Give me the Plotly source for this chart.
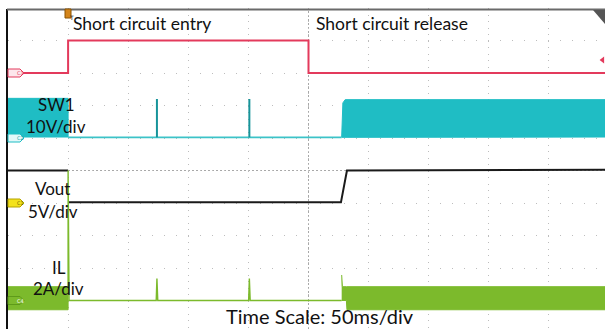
import plotly.graph_objects as go

# ---------------- data (time in ms, trigger at 0, 50 ms/div) ----------------
# C3 : short-circuit command (logic level, 1 unit = 1 div)
c3_t = [-50, 0, 0, 200, 200, 447]
c3_v = [0, 0, 1, 1, 0, 0]

# C2 : SW1 node, 10 V/div  (switching bursts shown as envelopes)
sw1_run1_t = [-50, 0]
sw1_run1_hi = [12.2, 12.2]
sw1_run1_lo = [0.3, 0.3]
sw1_line_t = [0, 227.6]
sw1_line_v = [0.2, 0.2]
sw1_spike_t = [73.9, 150.8]      # hiccup restart attempts
sw1_spike_v = [12.0, 12.0]
sw1_run2_t = [227.6, 228.6, 230.5, 447]
sw1_run2_hi = [0.3, 10.8, 11.8, 11.8]
sw1_run2_lo = [0.2, 0.3, 0.3, 0.3]

# C1 : Vout, 5 V/div
vout_t = [-50, 0, None, 0, 227.0, 232.0, 447]
vout_v = [5.0, 5.0, None, 0.1, 0.1, 5.0, 5.1]

# C4 : IL, 2 A/div
il_run1_t = [-50, 0]
il_run1_hi = [0.85, 0.85]
il_run1_lo = [-0.57, -0.57]
il_line_t = [0, 0, 0.8, 73.3, 73.9, 74.6, 150.2, 150.8, 151.5, 227.6]
il_line_a = [0.85, 8.0, 0.0, 0.0, 1.35, 0.0, 0.0, 1.35, 0.0, 0.0]
il_run2_t = [227.6, 228.2, 231.5, 232.0, 447]
il_run2_hi = [1.57, 0.85, 0.85, 0.85, 0.85]
il_run2_lo = [0.0, 0.0, 0.0, -0.57, -0.57]

trig_level = 0.4  # C3 trigger level marker

# channel scales (units/div) and screen offsets (div from bottom)
scale = {"C3": 1.0, "C2": 10.0, "C1": 5.0, "C4": 2.0}
offset = {"C3": 8.0, "C2": 6.0, "C1": 4.0, "C4": 1.0}

col = {"C3": "#e33a5c", "C2": "#1fbdc4", "C1": "#1a1a1a", "C4": "#7cba2c"}

W, H = 605, 329
ML, MT = 8, 8
PW, PH = W - ML, H - MT
XDIV, YDIV = 60.1, 32.5  # px per division
x_range = [-50, -50 + PW / XDIV * 50]
y_range = [10 - PH / YDIV, 10]


def scr(ch, vals):
    return [None if v is None else offset[ch] + v / scale[ch] for v in vals]


def px(x):
    return (x - ML) / PW


def py(y):
    return 1 - (y - MT) / PH


def envelope(t, hi, lo):
    return list(t) + list(reversed(t)), list(hi) + list(reversed(lo))


fig = go.Figure()

# C3
fig.add_trace(go.Scatter(x=c3_t, y=scr("C3", c3_v), mode="lines",
                         line=dict(color=col["C3"], width=2)))

# C2 envelopes + line + spikes
for t, hi, lo in [(sw1_run1_t, sw1_run1_hi, sw1_run1_lo), (sw1_run2_t, sw1_run2_hi, sw1_run2_lo)]:
    ex, ey = envelope(t, hi, lo)
    fig.add_trace(go.Scatter(x=ex, y=scr("C2", ey), mode="lines", fill="toself",
                             fillcolor=col["C2"], line=dict(color=col["C2"], width=1)))
fig.add_trace(go.Scatter(x=sw1_line_t, y=scr("C2", sw1_line_v), mode="lines",
                         line=dict(color="#3cc3c8", width=1.6)))
sx, sy = [], []
for t, v in zip(sw1_spike_t, sw1_spike_v):
    sx += [t, t, None]
    sy += [0.2, v, None]
fig.add_trace(go.Scatter(x=sx, y=scr("C2", sy), mode="lines",
                         line=dict(color="#17949a", width=2)))

# C1
fig.add_trace(go.Scatter(x=vout_t, y=scr("C1", vout_v), mode="lines",
                         line=dict(color=col["C1"], width=2), connectgaps=False))

# C4
for t, hi, lo in [(il_run1_t, il_run1_hi, il_run1_lo), (il_run2_t, il_run2_hi, il_run2_lo)]:
    ex, ey = envelope(t, hi, lo)
    fig.add_trace(go.Scatter(x=ex, y=scr("C4", ey), mode="lines", fill="toself",
                             fillcolor=col["C4"], line=dict(color=col["C4"], width=1)))
fig.add_trace(go.Scatter(x=il_line_t, y=scr("C4", il_line_a), mode="lines",
                         line=dict(color=col["C4"], width=1.4)))

# trigger level marker (right edge)
fig.add_trace(go.Scatter(x=[x_range[1] - 2], y=scr("C3", [trig_level]), mode="markers",
                         marker=dict(symbol="triangle-left", size=6, color=col["C3"])))

shapes = []
# centre graticule lines
shapes.append(dict(type="line", xref="x", yref="paper", x0=200, x1=200, y0=0, y1=1,
                   line=dict(color="#a8a8a8", width=1, dash="2px,2px"), layer="below"))
shapes.append(dict(type="line", xref="paper", yref="y", x0=0, x1=1, y0=5, y1=5,
                   line=dict(color="#a8a8a8", width=1, dash="2px,2px"), layer="below"))
# borders
shapes.append(dict(type="line", xref="paper", yref="paper", x0=px(7), x1=px(7), y0=0, y1=py(9),
                   line=dict(color="#111111", width=2)))
shapes.append(dict(type="line", xref="paper", yref="paper", x0=px(7), x1=1, y0=py(9.5), y1=py(9.5),
                   line=dict(color="#6a6a6a", width=2)))
# top-right corner triangle
shapes.append(dict(type="path", xref="paper", yref="paper",
                   path=f"M {px(593)},{py(10)} L {px(605)},{py(10)} L {px(605)},{py(24)} Z",
                   fillcolor="#555555", line=dict(width=0)))
# trigger T marker
shapes.append(dict(type="rect", xref="paper", yref="paper", x0=px(65), x1=px(71), y0=py(18), y1=py(9),
                   fillcolor="#d4851a", line=dict(color="#8a5200", width=1)))

# channel tags
tag_style = {
    "C3": ("#fde6ec", "#e33a5c", "#e33a5c"),
    "C2": ("#e2f8f9", "#1fbdc4", "#1b9ea4"),
    "C1": ("#f3e21c", "#b5a300", "#6a5f00"),
    "C4": ("#7cba2c", "#5e9a1a", "#ffffff"),
}
annotations = []
th = 4 / YDIV
for ch, (fc, lc, tc) in tag_style.items():
    y0 = offset[ch]
    shapes.append(dict(type="path", xref="paper", yref="y",
                       path=(f"M {px(8)},{y0 - th} L {px(20)},{y0 - th} L {px(24)},{y0} "
                             f"L {px(20)},{y0 + th} L {px(8)},{y0 + th} Z"),
                       fillcolor=fc, line=dict(color=lc, width=1)))
    annotations.append(dict(x=px(14.5), y=y0, xref="paper", yref="y", text=ch, showarrow=False,
                            font=dict(size=5, color=tc, family="DejaVu Sans")))

FONT = "Lato"
texts = [
    ("Short circuit entry", 71, 23, "left", 17.5),
    ("Short circuit release", 314, 23, "left", 17.5),
    ("SW1", 56, 104, "center", 17),
    ("10V/div", 56, 127, "center", 17),
    ("Vout", 53, 189, "center", 17),
    ("5V/div", 52.5, 211.5, "center", 17),
    ("IL", 59, 267, "center", 17),
    ("2A/div", 58.5, 288, "center", 17),
    ("Time Scale: 50ms/div", 320, 316, "center", 20),
]
for txt, x, y, anc, fs in texts:
    annotations.append(dict(x=px(x), y=py(y), xref="paper", yref="paper", text=txt,
                            showarrow=False, xanchor=anc, yanchor="middle",
                            font=dict(family=FONT, size=fs, color="#111111")))
annotations.append(dict(x=px(68), y=py(13.5), xref="paper", yref="paper", text="T",
                        showarrow=False, borderpad=0,
                        font=dict(family="DejaVu Sans", size=6, color="#111111")))

fig.update_layout(
    width=W, height=H, margin=dict(l=ML, r=0, t=MT, b=0, pad=0),
    paper_bgcolor="white", plot_bgcolor="white", showlegend=False,
    shapes=shapes, annotations=annotations,
    xaxis=dict(range=x_range, dtick=50, tick0=0, showticklabels=False, ticks="",
               showgrid=True, gridcolor="#bdbdbd", gridwidth=1, griddash="1px,5.5px",
               zeroline=False, showline=False, fixedrange=True),
    yaxis=dict(range=y_range, dtick=1, tick0=0, showticklabels=False, ticks="",
               showgrid=True, gridcolor="#bdbdbd", gridwidth=1, griddash="1px,11px",
               zeroline=False, showline=False, fixedrange=True),
)

fig.write_html("out.html", config={"displayModeBar": False},
               post_script="document.body.style.margin='0';document.body.style.padding='0';")
